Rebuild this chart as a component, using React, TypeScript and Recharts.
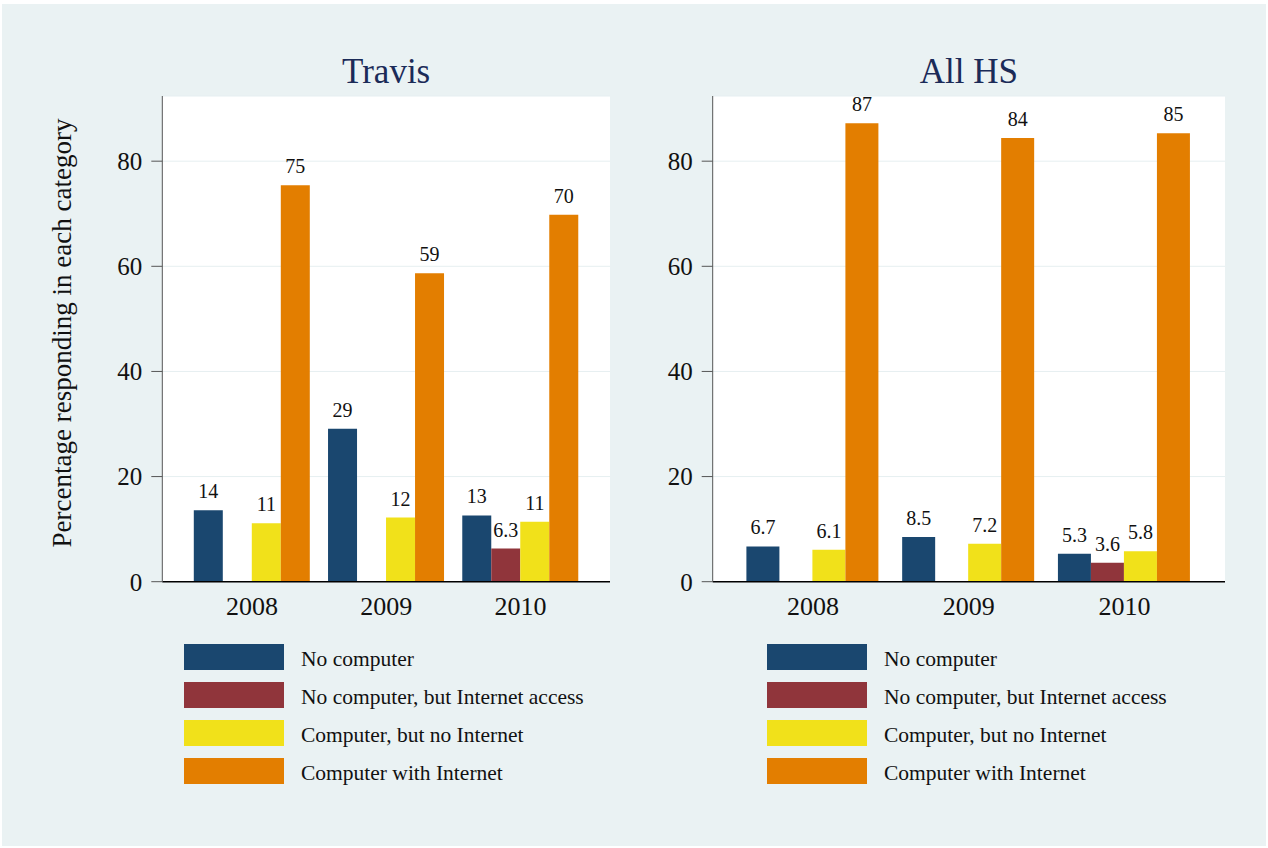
import React from "react";
import {
  BarChart,
  Bar,
  XAxis,
  YAxis,
  CartesianGrid,
  LabelList,
} from "recharts";

const FONT = '"Liberation Serif", "Times New Roman", serif';

const years = ["2008", "2009", "2010"];
const yTicks = [0, 20, 40, 60, 80];

const seriesNames = [
  "No computer",
  "No computer, but Internet access",
  "Computer, but no Internet",
  "Computer with Internet",
];
const seriesColors = ["#1a476f", "#90353b", "#f1e11a", "#e37e00"];

// Travis
const travisNoComputer = [13.6, 29.1, 12.6];
const travisNoCompInternet = [null, null, 6.3];
const travisCompNoInternet = [11.1, 12.2, 11.4];
const travisCompInternet = [75.4, 58.7, 69.8];

// All HS
const allNoComputer = [6.7, 8.5, 5.3];
const allNoCompInternet = [null, null, 3.6];
const allCompNoInternet = [6.1, 7.2, 5.8];
const allCompInternet = [87.2, 84.4, 85.3];

const buildRows = (a: any[], b: any[], c: any[], d: any[]) =>
  years.map((year, i) => ({ year, s0: a[i], s1: b[i], s2: c[i], s3: d[i] }));

const travisData = buildRows(
  travisNoComputer,
  travisNoCompInternet,
  travisCompNoInternet,
  travisCompInternet
);
const allData = buildRows(
  allNoComputer,
  allNoCompInternet,
  allCompNoInternet,
  allCompInternet
);

const fmt = (v: any) => {
  if (v === null || v === undefined) return "";
  const n = Number(v);
  return n >= 10 ? String(Math.round(n)) : n.toFixed(1);
};

const Panel = ({
  left,
  width,
  yAxisWidth,
  marginRight,
  gap,
  data,
  title,
  legendLeft,
}: {
  left: number;
  width: number;
  yAxisWidth: number;
  marginRight: number;
  gap: number;
  data: any[];
  title: string;
  legendLeft: number;
}) => {
  const plotCenter = left + yAxisWidth + (width - yAxisWidth - marginRight) / 2;
  return (
    <>
      <div
        style={{
          position: "absolute",
          left: plotCenter - 200,
          width: 400,
          top: 52,
          textAlign: "center",
          fontSize: 35,
          color: "#1b2b58",
          lineHeight: "40px",
        }}
      >
        {title}
      </div>
      <div style={{ position: "absolute", left, top: 0 }}>
        <BarChart
          width={width}
          height={640}
          data={data}
          margin={{ top: 96, right: marginRight, bottom: 0, left: 0 }}
          barGap={0}
          barCategoryGap={gap}
        >
          <CartesianGrid vertical={false} stroke="#e6eff1" fill="#ffffff" />
          <XAxis
            dataKey="year"
            height={58.3}
            padding={{ left: 22.5, right: 22.5 }}
            tickLine={false}
            tickSize={6}
            tickMargin={9}
            axisLine={{ stroke: "#000", strokeWidth: 1.6 }}
            tick={{ fill: "#111", fontSize: 26, fontFamily: FONT }}
          />
          <YAxis
            width={yAxisWidth}
            domain={[0, 92.4]}
            ticks={yTicks}
            allowDataOverflow
            tickSize={11}
            tickMargin={9}
            axisLine={{ stroke: "#555" }}
            tickLine={{ stroke: "#555" }}
            tick={{ fill: "#111", fontSize: 25, fontFamily: FONT }}
          />
          {["s0", "s1", "s2", "s3"].map((k, i) => (
            <Bar
              key={k}
              dataKey={k}
              fill={seriesColors[i]}
              isAnimationActive={false}
            >
              <LabelList
                dataKey={k}
                position="top"
                offset={12}
                formatter={fmt}
                style={{ fill: "#111", fontSize: 20, fontFamily: FONT }}
              />
            </Bar>
          ))}
        </BarChart>
      </div>
      <div style={{ position: "absolute", left: legendLeft, top: 644 }}>
        {seriesNames.map((name, i) => (
          <div
            key={name}
            style={{
              display: "flex",
              alignItems: "center",
              height: 26,
              marginBottom: 12,
            }}
          >
            <div
              style={{
                width: 100,
                height: 26,
                background: seriesColors[i],
                marginRight: 17,
              }}
            />
            <span
              style={{
                fontSize: 21.5,
                color: "#111",
                whiteSpace: "nowrap",
                position: "relative",
                top: 2,
              }}
            >
              {name}
            </span>
          </div>
        ))}
      </div>
    </>
  );
};

export default function App() {
  return (
    <div
      style={{
        position: "absolute",
        left: 0,
        top: 0,
        width: 1268,
        height: 848,
        background: "#fff",
        fontFamily: FONT,
        overflow: "hidden",
      }}
    >
      <div
        style={{
          position: "absolute",
          left: 2,
          top: 4,
          width: 1264,
          height: 842,
          background: "#eaf2f3",
        }}
      />
      <svg
        width={120}
        height={848}
        style={{ position: "absolute", left: 0, top: 0 }}
      >
        <text
          x={62}
          y={333}
          transform="rotate(-90 62 333)"
          textAnchor="middle"
          dominantBaseline="central"
          fontSize={27}
          fontFamily={FONT}
          fill="#111"
        >
          Percentage responding in each category
        </text>
      </svg>
      <Panel
        left={0}
        width={634}
        yAxisWidth={162.3}
        marginRight={24}
        gap={9}
        data={travisData}
        title="Travis"
        legendLeft={184}
      />
      <Panel
        left={634}
        width={634}
        yAxisWidth={78.7}
        marginRight={43}
        gap={11.2}
        data={allData}
        title="All HS"
        legendLeft={767}
      />
    </div>
  );
}
